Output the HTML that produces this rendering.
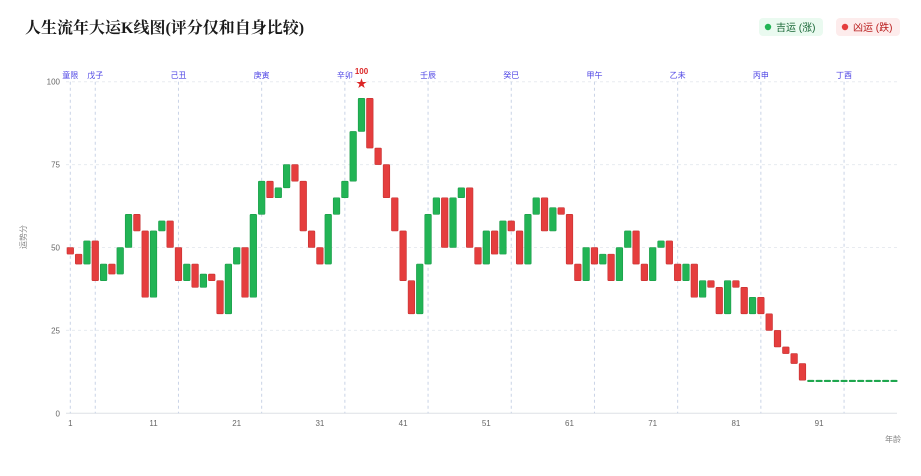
<!DOCTYPE html>
<html><head><meta charset="utf-8"><style>
body{margin:0;background:#fff;width:921px;height:471px;overflow:hidden;font-family:"Liberation Sans","Noto Sans CJK SC",sans-serif}
</style></head><body>
<svg width="921" height="471" xmlns="http://www.w3.org/2000/svg" id="s">
<text x="25" y="33" font-family="'Liberation Serif','Noto Serif CJK SC',serif" font-weight="bold" font-size="16" fill="#1a1a1a">人生流年大运K线图(评分仅和自身比较)</text>
<rect x="759" y="18" width="64" height="18" rx="4" fill="#eafaf0"/>
<circle cx="768" cy="27" r="3.2" fill="#22b455"/>
<text x="776" y="31" font-size="10" fill="#166534" font-family="'Liberation Sans','Noto Sans CJK SC',sans-serif">吉运 (涨)</text>
<rect x="836" y="18" width="64" height="18" rx="4" fill="#fdecec"/>
<circle cx="845" cy="27" r="3.2" fill="#e53e3e"/>
<text x="853" y="31" font-size="10" fill="#b91c1c" font-family="'Liberation Sans','Noto Sans CJK SC',sans-serif">凶运 (跌)</text>
<g id="g"></g>
</svg>
<script>
const ns="http://www.w3.org/2000/svg",g=document.getElementById('g');
function el(t,a,txt){const e=document.createElementNS(ns,t);for(const k in a)e.setAttribute(k,a[k]);if(txt!=null)e.textContent=txt;g.appendChild(e);return e;}
const X=n=>70.3+(n-1)*8.32, Y=v=>413.3-v*3.316;
[100,75,50,25].forEach(v=>{el('line',{x1:66,x2:897,y1:Y(v),y2:Y(v),stroke:'#e8ebf0','stroke-dasharray':'3,3'});});
el('line',{x1:66,x2:897,y1:Y(0),y2:Y(0),stroke:'#dde1e6'});
[0,25,50,75,100].forEach(v=>el('text',{x:60,y:Y(v)+3,'text-anchor':'end','font-size':8,fill:'#666'},v));
[1,11,21,31,41,51,61,71,81,91].forEach(n=>el('text',{x:X(n),y:426,'text-anchor':'middle','font-size':8,fill:'#666'},n));
el('text',{x:26,y:237,'font-size':8,fill:'#888',transform:'rotate(-90 26 237)','text-anchor':'middle'},'运势分');
el('text',{x:901,y:442,'font-size':8,fill:'#888','text-anchor':'end'},'年龄');
const lab=[[1,'童限'],[4,'戊子'],[14,'己丑'],[24,'庚寅'],[34,'辛卯'],[44,'壬辰'],[54,'癸巳'],[64,'甲午'],[74,'乙未'],[84,'丙申'],[94,'丁酉']];
lab.forEach(([n,t])=>{el('line',{x1:X(n),x2:X(n),y1:Y(100),y2:Y(0),stroke:'#c9d3e6','stroke-dasharray':'3,3'});el('text',{x:X(n),y:78,'text-anchor':'middle','font-size':8,fill:'#4f46e5'},t);});
const d=[[50,48],[48,45],[45,52],[52,40],[40,45],[45,42],[42,50],[50,60],[60,55],[55,35],[35,55],[55,58],[58,50],[50,40],[40,45],[45,38],[38,42],[42,40],[40,30],[30,45],[45,50],[50,35],[35,60],[60,70],[70,65],[65,68],[68,75],[75,70],[70,55],[55,50],[50,45],[45,60],[60,65],[65,70],[70,85],[85,95],[95,80],[80,75],[75,65],[65,55],[55,40],[40,30],[30,45],[45,60],[60,65],[65,50],[50,65],[65,68],[68,50],[50,45],[45,55],[55,48],[48,58],[58,55],[55,45],[45,60],[60,65],[65,55],[55,62],[62,60],[60,45],[45,40],[40,50],[50,45],[45,48],[48,40],[40,50],[50,55],[55,45],[45,40],[40,50],[50,52],[52,45],[45,40],[40,45],[45,35],[35,40],[40,38],[38,30],[30,40],[40,38],[38,30],[30,35],[35,30],[30,25],[25,20],[20,18],[18,15],[15,10]];
for(let i=90;i<=100;i++)d.push([10,10]);
d.forEach(([o,c],i)=>{const n=i+1,up=c>=o,hi=Math.max(o,c),lo=Math.min(o,c);
let y=Y(hi),h=Math.max(Y(lo)-Y(hi),1.6);
el('rect',{x:X(n)-3.3,y:y,width:6.6,height:h,fill:up?'#22b455':'#e53e3e',stroke:up?'#1a9a48':'#c53030','stroke-width':0.6,rx:0.8});});
el('text',{x:X(36),y:74,'text-anchor':'middle','font-size':8,'font-weight':'bold',fill:'#dc2626'},'100');
el('text',{x:X(36),y:87,'text-anchor':'middle','font-size':11,fill:'#dc2626'},'★');
</script>
</body></html>
